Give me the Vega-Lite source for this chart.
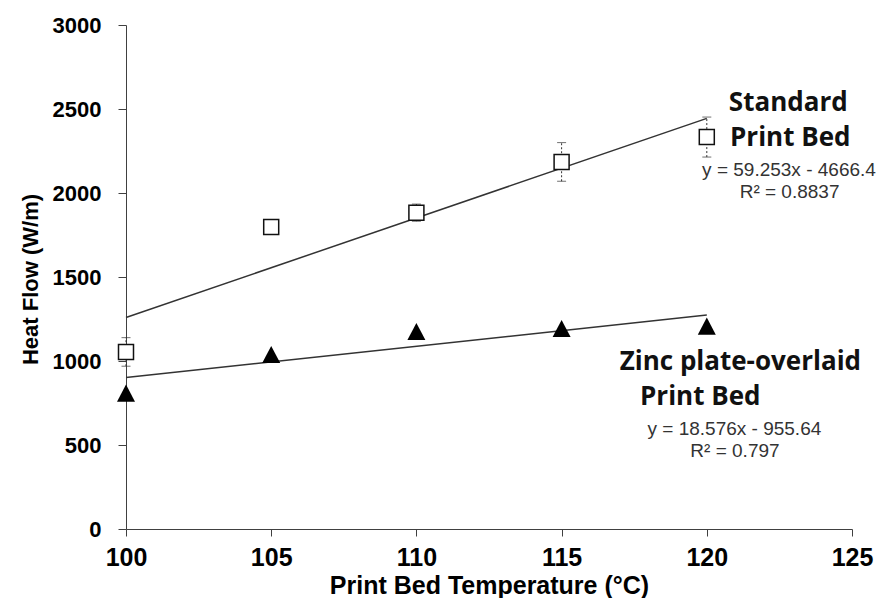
{
  "$schema": "https://vega.github.io/schema/vega-lite/v6.json",
  "width": 726,
  "height": 504,
  "autosize": {"type": "none"},
  "padding": {"left": 126, "top": 25, "right": 29, "bottom": 69},
  "background": "white",
  "config": {"view": {"stroke": null}, "axis": {"grid": false}},
  "datasets": {
    "standard": [
      {"temp": 100, "flow": 1054, "lo": 969, "hi": 1139},
      {"temp": 105, "flow": 1798, "lo": 1780, "hi": 1816},
      {"temp": 110, "flow": 1883, "lo": 1832, "hi": 1934},
      {"temp": 115, "flow": 2185, "lo": 2070, "hi": 2300},
      {"temp": 120, "flow": 2333, "lo": 2214, "hi": 2452}
    ],
    "zinc": [
      {"temp": 100, "flow": 806},
      {"temp": 105, "flow": 1036},
      {"temp": 110, "flow": 1173},
      {"temp": 115, "flow": 1191},
      {"temp": 120, "flow": 1205}
    ],
    "fits": [
      {"bed": "Standard", "temp": 100, "flow": 1258.9},
      {"bed": "Standard", "temp": 120, "flow": 2443.96},
      {"bed": "Zinc", "temp": 100, "flow": 902.0},
      {"bed": "Zinc", "temp": 120, "flow": 1273.5}
    ],
    "labels": [
      {"temp": 120.76, "flow": 2536, "text": "Standard"},
      {"temp": 120.8, "flow": 2327, "text": "Print Bed"},
      {"temp": 117.0, "flow": 994, "text": "Zinc plate-overlaid"},
      {"temp": 117.7, "flow": 786, "text": "Print Bed"}
    ],
    "eqs": [
      {"temp": 122.83, "flow": 2134, "text": "y = 59.253x - 4666.4"},
      {"temp": 122.85, "flow": 2006, "text": "R² = 0.8837"},
      {"temp": 120.95, "flow": 595, "text": "y = 18.576x - 955.64"},
      {"temp": 120.97, "flow": 467, "text": "R² = 0.797"}
    ]
  },
  "layer": [
    {
      "data": {"name": "fits"},
      "mark": {"type": "line", "color": "#333333", "strokeWidth": 1.5},
      "encoding": {
        "x": {
          "field": "temp", "type": "quantitative",
          "scale": {"domain": [100, 125], "nice": false, "zero": false},
          "axis": {
            "values": [100, 105, 110, 115, 120, 125],
            "format": "d",
            "title": "Print Bed Temperature (°C)",
            "labelFont": "Liberation Sans", "labelFontWeight": "bold", "labelFontSize": 25, "labelColor": "#000000",
            "labelFlush": false, "labelPadding": 9, "tickSize": 7,
            "domainColor": "#404040", "tickColor": "#404040",
            "titleFont": "Liberation Sans", "titleFontWeight": "bold", "titleFontSize": 25, "titleColor": "#000000",
            "titleBaseline": "alphabetic", "titleY": 64, "titleX": 363
          }
        },
        "y": {
          "field": "flow", "type": "quantitative",
          "scale": {"domain": [0, 3000], "nice": false},
          "axis": {
            "values": [0, 500, 1000, 1500, 2000, 2500, 3000],
            "format": "d",
            "title": "Heat Flow (W/m)",
            "labelFont": "Liberation Sans", "labelFontWeight": "bold", "labelFontSize": 22, "labelColor": "#000000",
            "labelPadding": 17, "tickSize": 8,
            "domainColor": "#404040", "tickColor": "#404040",
            "titleFont": "Liberation Sans", "titleFontWeight": "bold", "titleFontSize": 22, "titleColor": "#000000",
            "titleBaseline": "middle", "titleX": -96, "titleY": 254, "titleAngle": -90
          }
        },
        "detail": {"field": "bed"}
      }
    },
    {
      "data": {"name": "standard"},
      "mark": {"type": "rule", "color": "#333333", "strokeWidth": 1, "strokeDash": [2, 2]},
      "encoding": {
        "x": {"field": "temp", "type": "quantitative"},
        "y": {"field": "lo", "type": "quantitative"},
        "y2": {"field": "hi"}
      }
    },
    {
      "data": {"name": "standard"},
      "mark": {"type": "tick", "orient": "horizontal", "color": "#333333", "size": 9, "thickness": 1},
      "encoding": {
        "x": {"field": "temp", "type": "quantitative"},
        "y": {"field": "lo", "type": "quantitative"}
      }
    },
    {
      "data": {"name": "standard"},
      "mark": {"type": "tick", "orient": "horizontal", "color": "#333333", "size": 9, "thickness": 1},
      "encoding": {
        "x": {"field": "temp", "type": "quantitative"},
        "y": {"field": "hi", "type": "quantitative"}
      }
    },
    {
      "data": {"name": "standard"},
      "mark": {"type": "point", "shape": "square", "size": 225, "filled": false, "fill": "white", "fillOpacity": 1, "stroke": "#111111", "strokeWidth": 1.5, "opacity": 1},
      "encoding": {
        "x": {"field": "temp", "type": "quantitative"},
        "y": {"field": "flow", "type": "quantitative"}
      }
    },
    {
      "data": {"name": "zinc"},
      "mark": {"type": "point", "shape": "M-1,0.9L1,0.9L0,-1Z", "size": 324, "filled": true, "color": "#000000", "opacity": 1},
      "encoding": {
        "x": {"field": "temp", "type": "quantitative"},
        "y": {"field": "flow", "type": "quantitative"}
      }
    },
    {
      "data": {"name": "labels"},
      "mark": {"type": "text", "align": "left", "baseline": "middle", "font": "Open Sans", "fontWeight": "bold", "fontSize": 26, "color": "#111111"},
      "encoding": {
        "x": {"field": "temp", "type": "quantitative"},
        "y": {"field": "flow", "type": "quantitative"},
        "text": {"field": "text"}
      }
    },
    {
      "data": {"name": "eqs"},
      "mark": {"type": "text", "align": "center", "baseline": "middle", "font": "Liberation Sans", "fontSize": 19, "color": "#333333"},
      "encoding": {
        "x": {"field": "temp", "type": "quantitative"},
        "y": {"field": "flow", "type": "quantitative"},
        "text": {"field": "text"}
      }
    }
  ]
}
